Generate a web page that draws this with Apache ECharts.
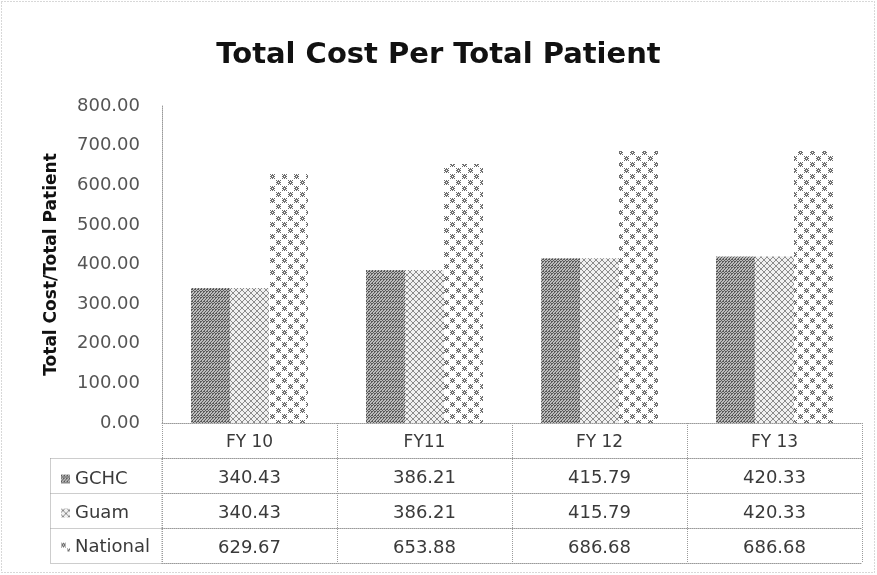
<!DOCTYPE html>
<html><head><meta charset="utf-8">
<script src="https://cdn.jsdelivr.net/npm/echarts@6/dist/echarts.min.js"></script>
<style>html,body{margin:0;padding:0;background:#fff}#c{width:877px;height:575px}</style>
</head><body><div id="c"></div>
<script>
const categories = ['FY 10', 'FY11', 'FY 12', 'FY 13'];
const seriesNames = ['GCHC', 'Guam', 'National'];
const gchc = [340.43, 386.21, 415.79, 420.33];
const guam = [340.43, 386.21, 415.79, 420.33];
const national = [629.67, 653.88, 686.68, 686.68];
const yTicks = [0, 100, 200, 300, 400, 500, 600, 700, 800];

function makePattern(kind) {
  const c = document.createElement('canvas');
  const s = kind === 'national' ? 12 : 6;
  c.width = s; c.height = s;
  const g = c.getContext('2d');
  g.fillStyle = '#fff'; g.fillRect(0, 0, s, s);
  if (kind === 'gchc') {
    g.fillStyle = '#bcbcbc'; g.fillRect(0, 0, s, s);
    g.fillStyle = '#5a5a5a';
    for (let y = 0; y < s; y++) for (let x = 0; x < s; x++) {
      if ((x + y) % 3 === 0 || (x * 2 + y) % 6 === 1) g.fillRect(x, y, 1, 1);
    }
  } else if (kind === 'guam') {
    g.fillStyle = '#f0f0f0'; g.fillRect(0, 0, s, s);
    g.fillStyle = '#8c8c8c';
    for (let y = 0; y < s; y++) for (let x = 0; x < s; x++) {
      if ((x - y + 6) % 6 === 0 || (x + y) % 6 === 3) g.fillRect(x, y, 1, 1);
    }
  } else {
    g.fillStyle = '#707070';
    const blob = ['X.X.X', '.XXX.', 'XX.XX', '.XXX.', 'X.X.X'];
    const draw = (ox, oy) => {
      for (let r = 0; r < 5; r++) for (let k = 0; k < 5; k++) {
        if (blob[r][k] === 'X') g.fillRect(ox + k, oy + r, 1, 1);
      }
    };
    draw(0, 0); draw(6, 6);
  }
  return { image: c, repeat: 'repeat' };
}

const patterns = [makePattern('gchc'), makePattern('guam'), makePattern('national')];
const seriesData = [gchc, guam, national];

const FONT = 'DejaVu Sans';
const lineStyle = { color: '#9a9a9a', width: 1, type: 'dotted' };
const gridLeft = 162, gridRight = 15, gridTop = 106, gridBottom = 152;
const rowH = 35;
const textColor = '#3a3a3a';

const xAxes = [{
  type: 'category', gridIndex: 0, data: categories, position: 'bottom',
  axisLine: { show: true, lineStyle: lineStyle },
  axisTick: { show: true, length: rowH * 4, lineStyle: lineStyle },
  axisLabel: { margin: 11, fontFamily: FONT, fontSize: 17, color: textColor },
  splitLine: { show: false }
}];
for (let r = 0; r < 4; r++) {
  const vals = seriesData[r];
  xAxes.push({
    type: 'category', gridIndex: 0, data: categories, position: 'bottom',
    offset: rowH * (r + 1),
    axisLine: { show: true, lineStyle: lineStyle },
    axisTick: { show: false },
    axisLabel: r < 3 ? {
      margin: 11, fontFamily: FONT, fontSize: 18, color: textColor,
      formatter: (v, i) => vals[i].toFixed(2)
    } : { show: false },
    splitLine: { show: false }
  });
}

const chart = echarts.init(document.getElementById('c'));
chart.setOption({
  animation: false,
  backgroundColor: '#fff',
  title: {
    text: 'Total Cost Per Total Patient', left: 'center', top: 36,
    textStyle: { fontFamily: FONT, fontWeight: 'bold', fontSize: 29, color: '#111' }
  },
  grid: { left: gridLeft, right: gridRight, top: gridTop, bottom: gridBottom, containLabel: false },
  legend: {
    orient: 'vertical', left: 56, top: 465, itemGap: 16, itemWidth: 9, itemHeight: 9,
    icon: 'rect', data: seriesNames,
    textStyle: { fontFamily: FONT, fontSize: 18, lineHeight: 18, color: textColor }
  },
  xAxis: xAxes,
  yAxis: {
    type: 'value', min: yTicks[0], max: yTicks[yTicks.length - 1], interval: 100,
    name: 'Total Cost/Total Patient', nameLocation: 'middle', nameGap: 102, nameRotate: 90,
    nameTextStyle: { fontFamily: FONT, fontWeight: 'bold', fontSize: 17, color: '#111' },
    axisLine: { show: true, lineStyle: lineStyle },
    axisTick: { show: false },
    splitLine: { show: false },
    axisLabel: { margin: 22, fontFamily: FONT, fontSize: 18, color: '#555', formatter: v => v.toFixed(2) }
  },
  series: seriesNames.map((n, i) => ({
    name: n, type: 'bar', xAxisIndex: 0, data: seriesData[i],
    barWidth: 39, barGap: '0%',
    itemStyle: { color: patterns[i] }
  })),
  graphic: [
    { type: 'rect', shape: { x: 1.5, y: 1.5, width: 873, height: 571 }, style: { fill: 'none', stroke: '#b0b0b0', lineWidth: 1, lineDash: [1, 2] }, silent: true },
    { type: 'rect', shape: { x: 50.5, y: 458.5, width: 111.5, height: rowH * 3 }, style: { fill: 'none', stroke: '#9a9a9a', lineWidth: 1, lineDash: [1, 1] }, silent: true },
    { type: 'line', shape: { x1: 50.5, y1: 458.5 + rowH, x2: 162, y2: 458.5 + rowH }, style: { stroke: '#9a9a9a', lineWidth: 1, lineDash: [1, 1] }, silent: true },
    { type: 'line', shape: { x1: 50.5, y1: 458.5 + rowH * 2, x2: 162, y2: 458.5 + rowH * 2 }, style: { stroke: '#9a9a9a', lineWidth: 1, lineDash: [1, 1] }, silent: true }
  ]
});
</script></body></html>
